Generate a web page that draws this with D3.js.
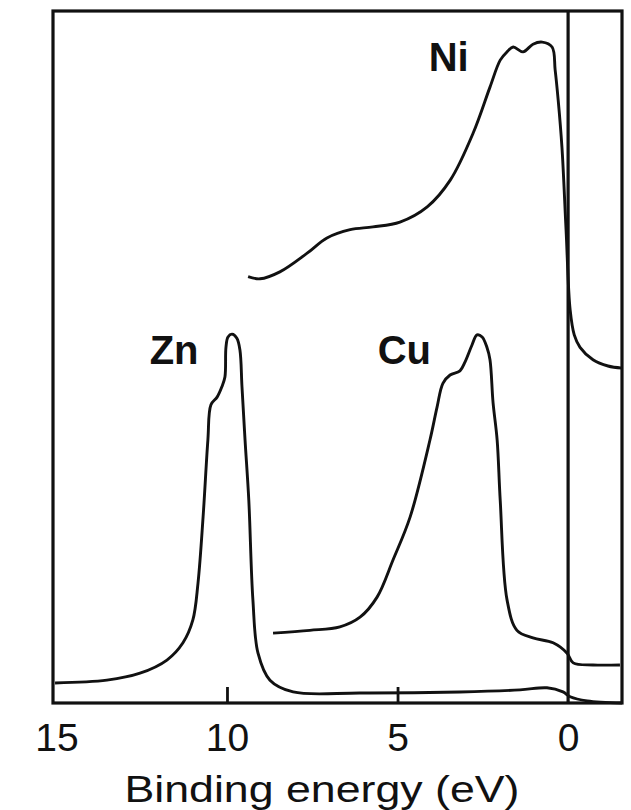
<!DOCTYPE html>
<html>
<head>
<meta charset="utf-8">
<script src="https://cdn.jsdelivr.net/npm/d3@7"></script>
<style>
  body { margin: 0; background: #fff; }
  svg { display: block; }
</style>
</head>
<body>
<div id="chart"></div>
<script>
const width = 631;
const height = 810;
const margin = {top: 11, right: 9, bottom: 107, left: 53};

// Spectra: binding energy (eV) and intensity (arb. units, 0-100)
const niEnergy = [9.38, 9.03, 8.45, 7.65, 7.07, 6.39, 5.72, 4.93, 4.13, 3.45, 2.78, 2.29, 1.99, 1.79, 1.61, 1.32, 1.03, 0.76, 0.47, 0.38, 0.29, 0.18, 0.06, -0.06, -0.18, -0.35, -0.73, -1.17, -1.58];
const niCounts = [61.6, 61.3, 62.3, 65.0, 67.2, 68.4, 68.8, 69.5, 71.7, 75.6, 82.4, 89.0, 92.9, 94.1, 94.8, 94.1, 95.2, 95.5, 94.8, 91.5, 87.1, 80.3, 68.4, 56.8, 53.2, 51.4, 49.6, 48.7, 48.4];

const cuEnergy = [8.65, 7.57, 6.69, 6.10, 5.60, 5.13, 4.63, 4.05, 3.84, 3.67, 3.46, 3.17, 3.02, 2.82, 2.67, 2.52, 2.38, 2.29, 2.20, 2.08, 1.99, 1.79, 1.50, 1.03, 0.44, 0.03, -0.15, -0.73, -1.52];
const cuCounts = [10.1, 10.5, 11.0, 12.4, 15.3, 20.7, 26.9, 38.0, 42.8, 46.2, 47.4, 48.0, 49.3, 51.7, 53.2, 52.9, 51.4, 49.6, 43.4, 38.0, 29.3, 14.9, 10.5, 9.4, 8.7, 7.2, 5.8, 5.5, 5.5];

const znEnergy = [15.04, 13.52, 12.55, 11.76, 11.29, 11.0, 10.85, 10.70, 10.56, 10.47, 10.29, 10.15, 10.06, 10.03, 9.97, 9.85, 9.71, 9.62, 9.56, 9.47, 9.36, 9.24, 9.09, 8.74, 8.06, 6.10, 3.17, 1.41, 0.62, 0.15, -0.06, -0.56, -1.58];
const znCounts = [2.9, 3.3, 4.3, 6.2, 8.7, 12.0, 17.3, 26.9, 38.0, 43.1, 44.2, 45.7, 47.1, 51.4, 52.9, 53.3, 52.7, 51.0, 45.7, 38.0, 29.3, 14.9, 7.2, 3.3, 1.6, 1.45, 1.6, 1.9, 2.2, 1.6, 0.9, 0.3, 0.0];

const tickValues = [15, 10, 5, 0];

// Labels placed next to each spectrum
const labels = [
    {name: "Ni", energy: 3.5, counts: 91.3},
    {name: "Zn", energy: 11.55, counts: 49.0},
    {name: "Cu", energy: 4.8, counts: 49.0}
];

const svg = d3.select("#chart")
    .append("svg")
    .attr("width", width)
    .attr("height", height);

const x = d3.scaleLinear()
    .domain([15.1, -1.58])
    .range([margin.left, width - margin.right]);

const y = d3.scaleLinear()
    .domain([0, 100])
    .range([height - margin.bottom, margin.top]);

const line = d3.line()
    .x(d => x(d[0]))
    .y(d => y(d[1]))
    .curve(d3.curveCatmullRom.alpha(0.5));

const series = [
    d3.zip(niEnergy, niCounts),
    d3.zip(cuEnergy, cuCounts),
    d3.zip(znEnergy, znCounts)
];

// Axis with inward ticks, no domain line (frame drawn below)
const axis = svg.append("g")
    .attr("transform", `translate(0,${height - margin.bottom})`)
    .call(d3.axisBottom(x)
        .tickValues(tickValues)
        .tickFormat(d3.format("d"))
        .tickSize(-16)
        .tickPadding(20));

axis.select(".domain").remove();
axis.selectAll(".tick line")
    .attr("stroke", "#111")
    .attr("stroke-width", 2.8)
    .filter(d => d === 15 || d === 0)
    .remove();
axis.selectAll(".tick text")
    .attr("fill", "#111")
    .style("font-family", "'Liberation Sans', Arial, sans-serif")
    .style("font-size", "39px");

// Frame
svg.append("rect")
    .attr("x", margin.left)
    .attr("y", margin.top)
    .attr("width", width - margin.left - margin.right)
    .attr("height", height - margin.top - margin.bottom)
    .attr("fill", "none")
    .attr("stroke", "#111")
    .attr("stroke-width", 3.2);

// Fermi level line at 0 eV
svg.append("line")
    .attr("x1", x(0))
    .attr("x2", x(0))
    .attr("y1", margin.top)
    .attr("y2", height - margin.bottom)
    .attr("stroke", "#111")
    .attr("stroke-width", 3.2);

svg.selectAll("path.spectrum")
    .data(series)
    .enter()
    .append("path")
    .attr("class", "spectrum")
    .attr("d", line)
    .attr("fill", "none")
    .attr("stroke", "#111")
    .attr("stroke-width", 2.9)
    .attr("stroke-linejoin", "round");

svg.selectAll("text.label")
    .data(labels)
    .enter()
    .append("text")
    .attr("class", "label")
    .attr("x", d => x(d.energy))
    .attr("y", d => y(d.counts))
    .attr("text-anchor", "middle")
    .style("font-family", "'Liberation Sans', Arial, sans-serif")
    .style("font-weight", "bold")
    .style("font-size", "40px")
    .attr("fill", "#111")
    .text(d => d.name);

// Axis title
svg.append("text")
    .attr("x", 322)
    .attr("y", 802)
    .attr("text-anchor", "middle")
    .attr("textLength", 395)
    .attr("lengthAdjust", "spacingAndGlyphs")
    .style("font-family", "'Liberation Sans', Arial, sans-serif")
    .style("font-size", "37px")
    .attr("fill", "#111")
    .text("Binding energy (eV)");
</script>
</body>
</html>
